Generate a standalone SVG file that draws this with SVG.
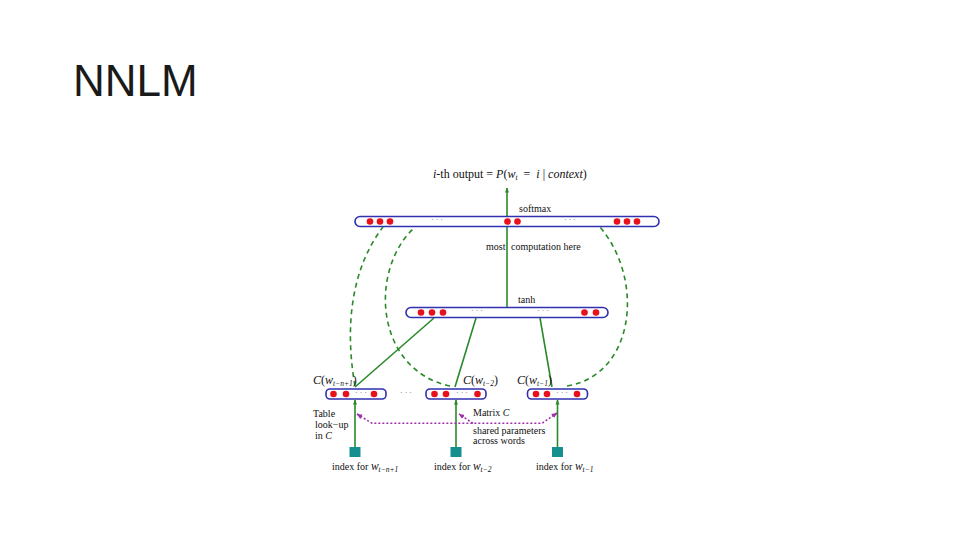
<svg xmlns="http://www.w3.org/2000/svg" width="960" height="540" viewBox="0 0 960 540">
<defs>
<style>
.bar{fill:#fff;stroke:#3030b0;stroke-width:1.6}
.dot{fill:#e8101a}
.g{stroke:#2a8a2a;stroke-width:1.6;fill:none}
.gd{stroke:#2a8a2a;stroke-width:1.6;fill:none;stroke-dasharray:5 4}
.p{stroke:#a030a8;stroke-width:1.6;fill:none;stroke-dasharray:2 2}
.t{font-family:"Liberation Serif",serif;font-size:10px;fill:#111}
.m{font-family:"Liberation Serif",serif;font-size:12px;fill:#111}
.i{font-style:italic}
.sub{font-size:7.5px;font-style:italic}
.ell{font-family:"Liberation Serif",serif;font-size:8px;fill:#666}
.sq{fill:#16908e}
</style>
<marker id="ag" viewBox="0 0 10 10" refX="9" refY="5" markerWidth="5" markerHeight="5" orient="auto" markerUnits="userSpaceOnUse"><path d="M0,1 L10,5 L0,9 z" fill="#2a8a2a"/></marker>
<marker id="ap" viewBox="0 0 10 10" refX="9" refY="5" markerWidth="6" markerHeight="6" orient="auto-start-reverse" markerUnits="userSpaceOnUse"><path d="M0,1 L10,5 L0,9 z" fill="#a030a8"/></marker>
</defs>
<rect width="960" height="540" fill="#fff"/>
<text x="73" y="96" font-family="Liberation Sans, Arial, sans-serif" font-size="44" fill="#1a1a1a">NNLM</text>

<g id="connectors">
<line class="g" x1="507" y1="216" x2="507" y2="188" marker-end="url(#ag)"/>
<line class="g" x1="507" y1="226" x2="507" y2="307.5"/>
<line class="g" x1="355" y1="387" x2="434" y2="318"/>
<line class="g" x1="455" y1="387" x2="476" y2="318"/>
<line class="g" x1="552" y1="387" x2="540" y2="318"/>
<path class="gd" d="M355,386 C345,330 350,270 383,227"/>
<path class="gd" d="M450,386 C375,370 368,270 415,227"/>
<path class="gd" d="M567,386 C635,375 645,280 600,227"/>
<line class="g" x1="355" y1="447" x2="355" y2="400" marker-end="url(#ag)"/>
<line class="g" x1="456" y1="447" x2="456" y2="400" marker-end="url(#ag)"/>
<line class="g" x1="557.5" y1="447" x2="557.5" y2="400" marker-end="url(#ag)"/>
<path class="p" d="M357,414 L372,423.3 L542,423.3 L557,413" marker-start="url(#ap)" marker-end="url(#ap)"/>
<path class="p" d="M473,423.3 L459,414" marker-end="url(#ap)"/>
</g>

<g id="output-label">
<text class="m" x="433" y="178" font-size="11.5"><tspan class="i">i</tspan>-th output = <tspan class="i">P</tspan>(<tspan class="i">w</tspan><tspan class="sub" dy="2">t</tspan><tspan dy="-2">&#160;&#160;=&#160;&#160;</tspan><tspan class="i">i</tspan>&#160;|&#160;<tspan class="i">context</tspan>)</text>
</g>

<g id="softmax-layer">
<rect class="bar" x="355" y="216.5" width="304" height="10" rx="5"/>
<circle class="dot" cx="370" cy="221.5" r="3.3"/><circle class="dot" cx="380" cy="221.5" r="3.3"/><circle class="dot" cx="390" cy="221.5" r="3.3"/>
<text class="ell" x="437" y="222" text-anchor="middle">· · ·</text>
<circle class="dot" cx="507.5" cy="221.5" r="3.3"/><circle class="dot" cx="517.5" cy="221.5" r="3.3"/>
<text class="ell" x="570" y="222" text-anchor="middle">· · ·</text>
<circle class="dot" cx="617" cy="221.5" r="3.3"/><circle class="dot" cx="627" cy="221.5" r="3.3"/><circle class="dot" cx="637" cy="221.5" r="3.3"/>
<text class="t" x="519" y="212" font-size="10.5">softmax</text>
</g>

<g id="computation-label">
<text class="t" x="486" y="250">most</text>
<text class="t" x="511" y="250">computation here</text>
</g>

<g id="tanh-layer">
<rect class="bar" x="406" y="307.5" width="202" height="10" rx="5"/>
<circle class="dot" cx="421" cy="312.5" r="3.3"/><circle class="dot" cx="432" cy="312.5" r="3.3"/><circle class="dot" cx="443" cy="312.5" r="3.3"/>
<text class="ell" x="477" y="313" text-anchor="middle">· · ·</text>
<text class="ell" x="543" y="313" text-anchor="middle">· · ·</text>
<circle class="dot" cx="584.5" cy="312.5" r="3.3"/><circle class="dot" cx="596" cy="312.5" r="3.3"/>
<text class="t" x="518" y="303" font-size="10.5">tanh</text>
</g>

<g id="embed-1">
<rect class="bar" x="326" y="389" width="60" height="10" rx="4"/>
<circle class="dot" cx="333.5" cy="394" r="3.3"/><circle class="dot" cx="346" cy="394" r="3.3"/>
<text class="ell" x="361" y="395" text-anchor="middle" fill="#333">· · ·</text>
<circle class="dot" cx="374" cy="394" r="3.3"/>
<text class="m" x="313" y="384"><tspan class="i">C</tspan>(<tspan class="i">w</tspan><tspan class="sub" dy="2">t−n+1</tspan><tspan dy="-2">)</tspan></text>
</g>

<text class="ell" x="406" y="395" text-anchor="middle">· · ·</text>

<g id="embed-2">
<rect class="bar" x="426" y="389" width="60" height="10" rx="4"/>
<circle class="dot" cx="434.5" cy="394" r="3.3"/><circle class="dot" cx="446" cy="394" r="3.3"/>
<text class="ell" x="462" y="395" text-anchor="middle" fill="#333">· · ·</text>
<circle class="dot" cx="477.5" cy="394" r="3.3"/>
<text class="m" x="463" y="384"><tspan class="i">C</tspan>(<tspan class="i">w</tspan><tspan class="sub" dy="2">t−2</tspan><tspan dy="-2">)</tspan></text>
</g>

<g id="embed-3">
<rect class="bar" x="527.5" y="389" width="60" height="10" rx="4"/>
<circle class="dot" cx="536" cy="394" r="3.3"/><circle class="dot" cx="547" cy="394" r="3.3"/>
<text class="ell" x="562" y="395" text-anchor="middle" fill="#333">· · ·</text>
<circle class="dot" cx="577" cy="394" r="3.3"/>
<text class="m" x="517" y="384"><tspan class="i">C</tspan>(<tspan class="i">w</tspan><tspan class="sub" dy="2">t−1</tspan><tspan dy="-2">)</tspan></text>
</g>

<g id="lookup-label">
<text class="t" x="313" y="417">Table</text>
<text class="t" x="315" y="428">look−up</text>
<text class="t" x="315" y="439">in <tspan class="i">C</tspan></text>
</g>

<g id="matrix-label">
<text class="t" x="473" y="416">Matrix <tspan class="i">C</tspan></text>
<text class="t" x="473" y="434">shared parameters</text>
<text class="t" x="473" y="444">across words</text>
</g>

<g id="index-1">
<rect class="sq" x="349.5" y="447" width="11" height="10"/>
<text class="t" x="332" y="470">index for <tspan class="i" font-size="11.5">w</tspan><tspan class="sub" dy="2">t−n+1</tspan></text>
</g>
<g id="index-2">
<rect class="sq" x="450.5" y="447" width="11" height="10"/>
<text class="t" x="434" y="470">index for <tspan class="i" font-size="11.5">w</tspan><tspan class="sub" dy="2">t−2</tspan></text>
</g>
<g id="index-3">
<rect class="sq" x="552" y="447" width="11" height="10"/>
<text class="t" x="536" y="470">index for <tspan class="i" font-size="11.5">w</tspan><tspan class="sub" dy="2">t−1</tspan></text>
</g>
</svg>
